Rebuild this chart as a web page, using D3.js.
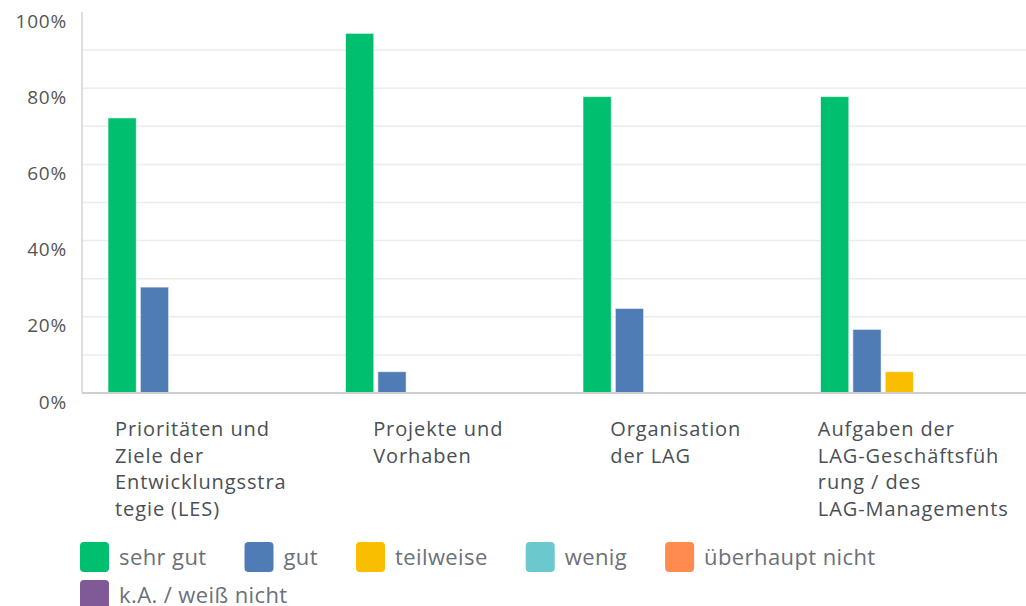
<!DOCTYPE html>
<html>
<head>
<meta charset="utf-8">
<script src="https://cdn.jsdelivr.net/npm/d3@7"></script>
<style>
  body { margin: 0; background: #fff; }
  svg { display: block; font-family: "Open Sans", Roboto, sans-serif; }
</style>
</head>
<body>
<svg id="chart" width="1026" height="606"></svg>
<script>
// categories (already wrapped like in the original)
var categories = [
  ["Prioritäten und", "Ziele der", "Entwicklungsstra", "tegie (LES)"],
  ["Projekte und", "Vorhaben"],
  ["Organisation", "der LAG"],
  ["Aufgaben der", "LAG-Geschäftsfüh", "rung / des", "LAG-Managements"]
];
var seriesNames = ["sehr gut", "gut", "teilweise", "wenig", "überhaupt nicht", "k.A. / weiß nicht"];
var seriesColors = ["#00bf6f", "#507cb6", "#f9be00", "#6bc8cd", "#ff8b4f", "#7f5a96"];

// percent values per series, one per category
var sehrGut = [72.2, 94.4, 77.8, 77.8];
var gut = [27.8, 5.6, 22.2, 16.7];
var teilweise = [0, 0, 0, 5.6];
var wenig = [0, 0, 0, 0];
var ueberhauptNicht = [0, 0, 0, 0];
var keineAngabe = [0, 0, 0, 0];
var allSeries = [sehrGut, gut, teilweise, wenig, ueberhauptNicht, keineAngabe];

var yTicks = [0, 20, 40, 60, 80, 100];

var svg = d3.select("#chart");
var plotLeft = 82, plotRight = 1032, plotTop = 12, plotBottom = 393;

var x0 = d3.scaleBand()
  .domain(d3.range(categories.length))
  .range([plotLeft, plotRight])
  .padding(0);

var x1 = d3.scaleBand()
  .domain(d3.range(seriesNames.length))
  .range([26, 26 + 190])
  .paddingInner(0.125)
  .paddingOuter(0);

var y = d3.scaleLinear().domain([0, 100]).range([plotBottom, plotTop]);

// gridlines every 10%
svg.append("g")
  .selectAll("line")
  .data(d3.range(10, 100, 10))
  .enter().append("line")
    .attr("x1", plotLeft)
    .attr("x2", 1026)
    .attr("y1", function(d) { return y(d); })
    .attr("y2", function(d) { return y(d); })
    .attr("stroke", "#ececec")
    .attr("stroke-width", 1.5);

// y axis line
svg.append("line")
  .attr("x1", plotLeft).attr("x2", plotLeft)
  .attr("y1", plotTop).attr("y2", plotBottom)
  .attr("stroke", "#d4d4d4")
  .attr("stroke-width", 1.5);

// y tick labels (sit a bit below their line, like the original)
svg.append("g")
  .selectAll("text")
  .data(yTicks)
  .enter().append("text")
    .attr("x", 67)
    .attr("y", function(d) { return y(d) + 9; })
    .attr("dy", "0.35em")
    .attr("text-anchor", "end")
    .attr("font-size", "19px")
    .attr("letter-spacing", "0.8px")
    .attr("fill", "#555")
    .text(function(d) { return d + "%"; });

// bars
var groups = svg.append("g")
  .selectAll("g")
  .data(categories)
  .enter().append("g")
    .attr("transform", function(d, i) { return "translate(" + x0(i) + ",0)"; });

groups.selectAll("rect")
  .data(function(d, ci) {
    return allSeries.map(function(s, si) { return {si: si, v: s[ci]}; });
  })
  .enter().filter(function(d) { return d.v > 0; }).append("rect")
    .attr("x", function(d) { return x1(d.si); })
    .attr("width", x1.bandwidth())
    .attr("y", function(d) { return y(d.v); })
    .attr("height", function(d) { return plotBottom - y(d.v); })
    .attr("fill", function(d) { return seriesColors[d.si]; })
    .attr("stroke", "rgba(255,255,255,0.6)")
    .attr("stroke-width", 1);

// baseline
svg.append("line")
  .attr("x1", plotLeft).attr("x2", 1026)
  .attr("y1", plotBottom).attr("y2", plotBottom)
  .attr("stroke", "#cfcfcf")
  .attr("stroke-width", 2);

// category labels: block centred in the band, lines left aligned
groups.each(function(lines, i) {
  var g = d3.select(this);
  var t = g.append("text")
    .attr("font-size", "20px")
    .attr("letter-spacing", "0.9px")
    .attr("fill", "#4a4f55");
  lines.forEach(function(l, k) {
    t.append("tspan").attr("x", 0).attr("y", 436 + k * 26.6).text(l);
  });
  var w = 0;
  t.selectAll("tspan").each(function() { w = Math.max(w, this.getComputedTextLength()); });
  t.selectAll("tspan").attr("x", x0.bandwidth() / 2 - w / 2);
});

// legend, flowing and wrapping
var lx = 80, ly = 542, maxX = 1020;
seriesNames.forEach(function(name, i) {
  var item = svg.append("g");
  var txt = item.append("text")
    .attr("x", 39)
    .attr("y", 23)
    .attr("font-size", "22px")
    .attr("letter-spacing", "0.4px")
    .attr("fill", "#6b7079")
    .text(name);
  var w = 39 + txt.node().getComputedTextLength();
  if (lx + w > maxX) { lx = 80; ly += 38; }
  item.attr("transform", "translate(" + lx + "," + ly + ")");
  item.insert("rect", "text")
    .attr("width", 29)
    .attr("height", 30)
    .attr("rx", 4)
    .attr("fill", seriesColors[i]);
  lx += w + 38;
});
</script>
</body>
</html>
